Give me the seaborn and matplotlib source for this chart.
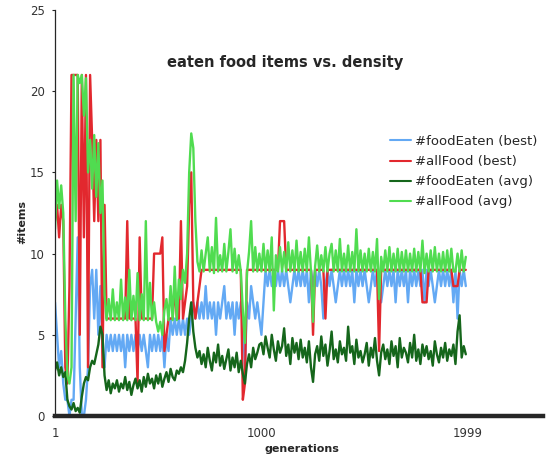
import numpy as np
import pandas as pd
import matplotlib.pyplot as plt
import seaborn as sns

# one sample every 10 generations (1 ... 1991)
generations = np.arange(1, 2000, 10)

food_eaten_best = [
    7, 5, 3, 4, 2, 1, 1, 0, 1, 1,
    6, 11, 3, 0, 0, 1, 3, 8, 9, 6,
    9, 5, 8, 4, 3, 5, 4, 5, 4, 5,
    4, 5, 4, 5, 3, 5, 4, 5, 4, 5,
    4, 5, 4, 5, 4, 3, 5, 4, 5, 4,
    5, 4, 5, 3, 5, 4, 6, 5, 6, 5,
    6, 5, 6, 5, 6, 5, 6, 7, 6, 7,
    6, 7, 6, 8, 6, 7, 6, 7, 5, 7,
    6, 7, 8, 6, 7, 6, 7, 5, 7, 6,
    7, 6, 3, 7, 6, 8, 7, 6, 7, 6,
    5, 7, 9, 8, 9, 8, 9, 8, 9, 8,
    9, 8, 9, 8, 7, 8, 9, 8, 9, 8,
    9, 8, 9, 7, 9, 8, 9, 8, 9, 8,
    6, 8, 9, 8, 9, 8, 7, 8, 9, 8,
    9, 8, 9, 8, 9, 7, 9, 8, 9, 8,
    9, 8, 7, 8, 9, 8, 9, 8, 7, 8,
    9, 8, 9, 8, 9, 7, 9, 8, 9, 8,
    9, 7, 9, 8, 9, 8, 9, 8, 9, 7,
    9, 8, 9, 8, 7, 8, 9, 8, 9, 8,
    9, 8, 9, 7, 9, 6, 9, 8, 9, 8,
]

all_food_best = [
    12, 13, 11, 13, 12, 3, 2, 8, 21, 21,
    21, 21, 5, 21, 11, 21, 3, 21, 17, 12,
    17, 12, 17, 3, 13, 6, 6, 6, 6, 6,
    6, 6, 6, 6, 6, 12, 6, 6, 6, 6,
    2, 11, 6, 6, 6, 6, 6, 6, 10, 10,
    10, 10, 11, 4, 5, 6, 6, 6, 8, 6,
    6, 12, 6, 7, 8, 13, 15, 7, 6, 7,
    8, 9, 9, 9, 9, 9, 9, 9, 9, 9,
    9, 9, 9, 9, 9, 9, 9, 9, 9, 9,
    9, 1, 2, 9, 9, 9, 9, 9, 9, 9,
    9, 9, 9, 9, 9, 9, 9, 9, 9, 12,
    12, 12, 9, 9, 9, 9, 9, 9, 9, 9,
    9, 9, 9, 9, 9, 5, 9, 9, 9, 9,
    9, 6, 9, 9, 9, 9, 9, 9, 9, 9,
    9, 9, 9, 9, 9, 9, 9, 9, 9, 9,
    9, 9, 9, 9, 9, 9, 9, 4, 9, 9,
    9, 9, 9, 9, 9, 9, 9, 9, 9, 9,
    9, 9, 9, 9, 9, 9, 9, 9, 7, 7,
    7, 9, 9, 9, 9, 9, 9, 9, 9, 9,
    9, 9, 9, 8, 8, 8, 9, 9, 9, 9,
]

food_eaten_avg = [
    2.8, 3.3, 2.5, 3.0, 2.4, 2.7, 1.0, 0.6, 0.4, 0.8,
    0.3, 0.5, 0.2, 1.2, 2.0, 2.4, 2.2, 3.0, 3.4, 3.2,
    3.8, 4.4, 5.5, 5.0, 2.5, 1.6, 2.2, 1.4, 2.0, 1.7,
    2.2, 1.5, 2.0, 1.7, 2.4, 1.6, 2.1, 1.3, 1.9, 2.3,
    1.7, 2.2, 1.5, 2.4, 1.8, 2.6, 2.0, 2.3, 1.7, 2.5,
    2.0, 2.6, 1.8, 2.3, 2.7, 2.1, 2.9, 2.4, 2.2, 2.8,
    2.6, 3.0, 2.7, 3.4, 4.5, 6.0, 7.0, 5.2, 4.2, 3.6,
    4.0, 3.2, 3.8, 3.0, 4.2, 3.4, 2.8, 3.9, 3.3, 4.4,
    3.1, 3.7, 2.9, 3.5, 4.1, 2.8, 3.6, 3.0, 3.9, 2.7,
    3.4, 2.6, 2.0, 3.2, 3.8, 3.0, 4.2, 3.5, 3.9, 4.4,
    4.5, 3.8, 4.9, 4.2, 3.6, 5.0, 4.1, 3.4, 4.6, 3.9,
    4.3, 5.4, 3.7, 4.4, 3.2, 4.8, 3.9, 4.5, 3.5, 4.7,
    3.6, 4.2, 3.3, 4.6, 3.0, 2.1, 3.8, 4.3, 3.4, 4.9,
    3.7, 4.4, 3.1, 4.0, 5.2, 3.5, 4.1, 3.3, 4.6, 3.8,
    4.2, 3.4, 5.5, 3.9, 4.3, 3.2, 4.7, 3.6, 4.0, 3.3,
    3.8, 4.5, 3.1, 4.2, 3.6, 4.8, 3.4, 2.5, 3.9, 4.4,
    3.5, 4.1, 3.2, 4.6, 3.7, 4.3, 3.0, 4.8, 3.6, 4.2,
    3.9, 3.3, 4.5, 3.6, 5.0, 3.4, 4.1, 3.2, 4.4, 3.7,
    4.3, 3.5, 4.0, 3.1, 4.6, 3.8, 3.3, 4.2, 3.6, 4.5,
    3.4, 4.1, 3.7, 4.4, 3.2, 5.2, 6.2, 3.6, 4.3, 3.8,
]

all_food_avg = [
    11.5, 14.5, 12.8, 14.2, 12.5, 6.0, 2.5, 2.0, 3.0, 21.0,
    12.0, 21.0, 20.5, 21.0, 18.5, 20.8, 15.0, 17.0, 14.0, 17.3,
    13.5, 16.8, 12.5, 14.5, 7.5, 5.9, 7.2, 5.9, 7.8, 5.9,
    7.0, 5.9, 8.4, 5.9, 7.3, 5.9, 9.0, 5.9, 7.4, 5.9,
    8.8, 5.9, 7.5, 5.9, 12.0, 5.9, 8.2, 5.9, 7.0, 5.8,
    5.2, 5.8, 5.0, 6.5, 7.2, 5.9, 8.0, 5.9, 9.2, 5.9,
    8.4, 7.2, 9.0, 8.2, 10.0, 15.0, 17.4, 16.5, 12.0, 9.5,
    8.9, 10.2, 8.9, 10.0, 11.0, 8.9, 10.4, 8.8, 12.2, 8.9,
    9.9, 8.9, 10.6, 8.9, 10.1, 11.5, 8.9, 10.3, 8.8, 9.9,
    8.9, 6.5, 4.5, 8.8, 10.1, 12.0, 8.9, 10.4, 8.9, 10.0,
    8.9, 10.6, 8.9, 10.2, 8.9, 11.0, 6.5, 9.9, 8.9, 10.4,
    8.9, 10.1, 8.9, 10.7, 8.9, 10.2, 8.9, 10.8, 8.9, 10.1,
    8.9, 10.3, 8.9, 11.0, 8.9, 5.8, 9.2, 10.5, 8.9, 9.9,
    8.9, 10.4, 8.9, 10.0, 10.6, 8.9, 10.2, 8.9, 10.9, 8.9,
    10.0, 8.9, 10.5, 8.9, 10.1, 8.9, 11.5, 8.9, 10.2, 8.9,
    10.0, 8.9, 10.3, 8.9, 10.1, 8.9, 10.9, 7.2, 9.8, 8.9,
    10.2, 8.9, 10.4, 8.9, 10.0, 8.9, 10.3, 8.9, 10.1, 8.9,
    10.2, 8.9, 10.0, 8.9, 10.3, 8.9, 10.1, 8.9, 10.8, 8.8,
    10.0, 8.9, 10.2, 8.9, 10.4, 8.9, 10.0, 8.9, 10.1, 8.9,
    10.2, 8.9, 10.3, 8.9, 8.9, 10.0, 8.9, 10.2, 8.9, 9.8,
]

series_names = ["#foodEaten (best)", "#allFood (best)", "#foodEaten (avg)", "#allFood (avg)"]
series_colors = ["#63a9f4", "#e2282e", "#15661b", "#50dc50"]
x_ticks = [1, 1000, 1999]
y_ticks = [0, 5, 10, 15, 20, 25]

# long-form table for seaborn
frames = []
for name, vals in zip(series_names, [food_eaten_best, all_food_best, food_eaten_avg, all_food_avg]):
    frames.append(pd.DataFrame({"generation": generations, "items": vals, "series": name}))
df = pd.concat(frames, ignore_index=True)

sns.set_style("ticks")
plt.rcParams["font.family"] = ["DejaVu Sans"]

fig = plt.figure(figsize=(5.48, 4.57), dpi=100)
ax = fig.add_axes([55 / 548, 1 - 416 / 457, (543 - 55) / 548, (416 - 10) / 457])

sns.lineplot(data=df, x="generation", y="items", hue="series", hue_order=series_names,
             palette=series_colors, estimator=None, linewidth=1.7, ax=ax)

ax.set_xlim(1, 2365)
ax.set_ylim(0, 25)
ax.set_xticks(x_ticks)
ax.set_xticklabels([str(t) for t in x_ticks])
ax.set_yticks(y_ticks)

for side in ["top", "right"]:
    ax.spines[side].set_visible(False)
ax.spines["bottom"].set_linewidth(3.2)
ax.spines["left"].set_linewidth(0.9)
ax.spines["bottom"].set_zorder(5)
ax.tick_params(axis="x", length=0, pad=8, labelsize=8.5, labelcolor="#333333")
ax.tick_params(axis="y", length=2.5, width=0.8, pad=5, labelsize=8.5, labelcolor="#333333")

ax.set_xlabel("generations", fontsize=8, fontweight="bold")
ax.set_ylabel("#items", fontsize=8, fontweight="bold")
ax.xaxis.set_label_coords((302 - 55) / 488, -(444 - 416) / 406)
ax.yaxis.set_label_coords(-(55 - 27) / 488, (416 - 222) / 406)

ax.text((285 - 55) / 488, (416 - 63) / 406, "eaten food items vs. density",
        transform=ax.transAxes, ha="center", va="center", fontsize=10.5, fontweight="bold")

sns.move_legend(ax, "upper left", bbox_to_anchor=(390 / 548, 1 - 135 / 457),
                bbox_transform=fig.transFigure, frameon=False, title=None,
                fontsize=9.5, handlelength=1.6, handletextpad=0.3,
                labelspacing=0.54, borderpad=0, borderaxespad=0)
for line in ax.get_legend().get_lines():
    line.set_linewidth(1.5)

fig.savefig("out.png", dpi=100)
